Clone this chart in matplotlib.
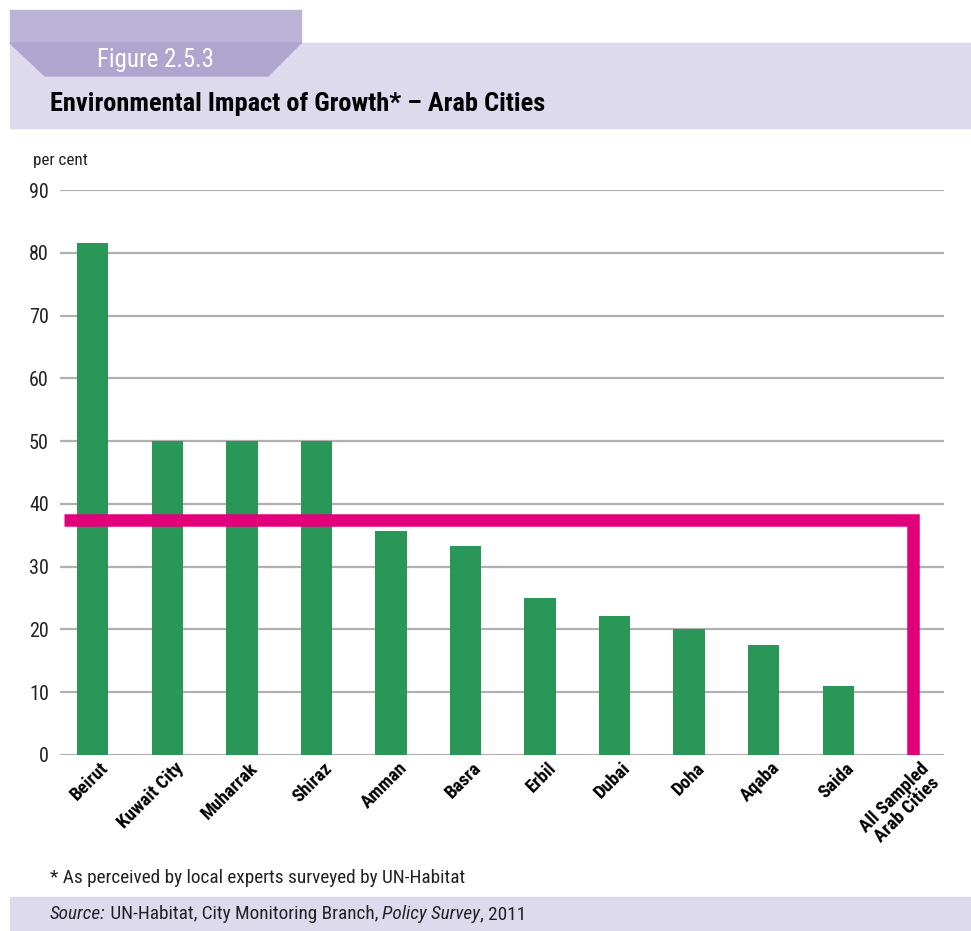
import matplotlib
matplotlib.use("Agg")
import matplotlib.pyplot as plt
from matplotlib.patches import Rectangle, Polygon
from matplotlib.transforms import ScaledTranslation

cities = ["Beirut", "Kuwait City", "Muharrak", "Shiraz", "Amman", "Basra",
          "Erbil", "Dubai", "Doha", "Aqaba", "Saida"]
values = [81.5, 50, 50, 50, 35.7, 33.3, 25.0, 22.2, 20.0, 17.5, 11.0]
all_label = "All Sampled\nArab Cities"
all_value = 37.5
yticks = [0, 10, 20, 30, 40, 50, 60, 70, 80, 90]

NARROW = ["Roboto Condensed", "Liberation Sans Narrow", "Arial Narrow", "Roboto", "DejaVu Sans"]
GREEN = "#2a9657"
MAGENTA = "#e2007a"
W, H = 971, 931

fig = plt.figure(figsize=(W / 100, H / 100), dpi=100)
renderer = fig.canvas.get_renderer()


def fx(x):
    return x / W


def fy(y):
    return 1 - y / H


def fit(t, target_w):
    """Scale the font size of text t so that its width is target_w pixels."""
    for _ in range(3):
        w = t.get_window_extent(renderer).width
        t.set_fontsize(t.get_fontsize() * target_w / w)


# Header shapes
fig.patches.append(Rectangle((fx(10), fy(128)), fx(961), fy(43) - fy(128),
                             transform=fig.transFigure, color="#dedaed", zorder=0))
fig.patches.append(Rectangle((fx(10), fy(43)), fx(291), fy(10) - fy(43),
                             transform=fig.transFigure, color="#bab3d6", zorder=0))
fig.patches.append(Polygon([(fx(10), fy(43)), (fx(301), fy(43)), (fx(268), fy(76)), (fx(45), fy(76))],
                           closed=True, transform=fig.transFigure, color="#aea6cf", zorder=0))
t = fig.text(fx(97), fy(60), "Figure 2.5.3", color="white", fontsize=15, family=NARROW,
             ha="left", va="center")
fit(t, 117)
t = fig.text(fx(50), fy(104), "Environmental Impact of Growth* \u2013 Arab Cities", color="black",
             fontsize=17, fontweight="bold", family=NARROW, ha="left", va="center")
fit(t, 493)

# Footer
fig.patches.append(Rectangle((fx(10), fy(931)), fx(961), fy(897) - fy(931),
                             transform=fig.transFigure, color="#dedaed", zorder=0))
t = fig.text(fx(50), fy(878), "* As perceived by local experts surveyed by UN-Habitat",
             fontsize=12, family=NARROW, color="#222222", ha="left", va="center")
fit(t, 413)
foot_size = t.get_fontsize()

parts = [("Source:", "italic"), (" UN-Habitat, City Monitoring Branch, ", "normal"),
         ("Policy Survey", "italic"), (", 2011", "normal")]
x = 50
for txt, st in parts:
    t = fig.text(fx(x), fy(914), txt, fontsize=foot_size, family=NARROW, style=st,
                 color="#222222", ha="left", va="center")
    x += t.get_window_extent(renderer).width

t = fig.text(fx(33), fy(160), "per cent", fontsize=11, family=NARROW, color="#222222",
             ha="left", va="center")
fit(t, 55)

# Axes
ax = fig.add_axes([fx(60), fy(755), fx(944) - fx(60), fy(190) - fy(755)])
n = len(cities)
xs = list(range(n))
ax.bar(xs, values, width=0.42, color=GREEN, zorder=2)

ax.plot([-0.39, n, n], [all_value, all_value, 0], color=MAGENTA, lw=9,
        solid_joinstyle="miter", solid_capstyle="butt", zorder=3)

ax.set_xlim(-0.44, n + 0.42)
ax.set_ylim(0, 90)
ax.set_yticks(yticks)
ax.set_yticklabels([str(v) for v in yticks], family=NARROW, fontsize=14.5, color="#222222")
ax.yaxis.grid(True, color="#b0b0b0", lw=1.6, zorder=0)
ax.set_axisbelow(True)
ax.tick_params(axis="y", length=0, pad=8)
ax.tick_params(axis="x", length=0, pad=3)
for s in ax.spines.values():
    s.set_visible(False)

ax.set_xticks(xs + [n])
labels = ax.set_xticklabels(cities + [all_label], rotation=45, ha="right",
                            rotation_mode="anchor", family=NARROW, fontsize=13.5,
                            fontweight="bold", multialignment="center", linespacing=1.0)
off = ScaledTranslation(7 / 100, 0, fig.dpi_scale_trans)
for lab in ax.get_xticklabels():
    lab.set_transform(lab.get_transform() + off)

fig.savefig("out.png", dpi=100)
